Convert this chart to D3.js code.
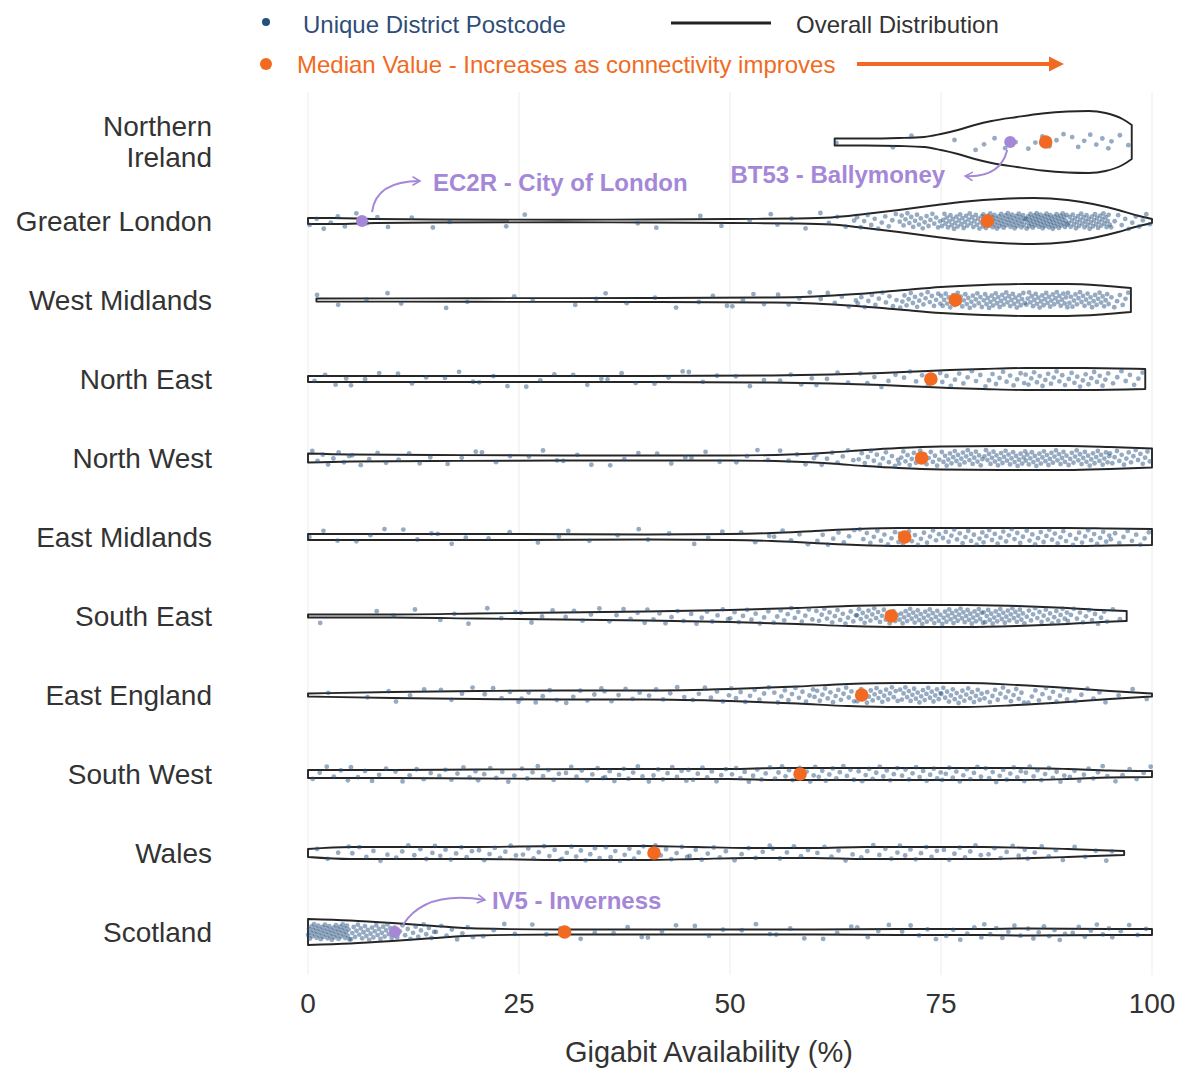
<!DOCTYPE html>
<html>
<head>
<meta charset="utf-8">
<script src="https://cdn.jsdelivr.net/npm/d3@7"></script>
<style>
  html, body { margin: 0; padding: 0; background: #ffffff; }
  svg { display: block; font-family: "Liberation Sans", Arial, sans-serif; }
</style>
</head>
<body>
<svg id="chart" width="1181" height="1070"></svg>
<script>
// Regions, top to bottom
const regions = [
  "Northern Ireland", "Greater London", "West Midlands", "North East", "North West",
  "East Midlands", "South East", "East England", "South West", "Wales", "Scotland"
];

// Median gigabit availability (%) per region
const medianValues = [87.4, 80.5, 76.7, 73.8, 72.7, 70.7, 69.1, 65.6, 58.3, 41.0, 30.4];

// Violin outlines: [availability %, density] knots per region (first/last knot = data range)
const violinProfiles = [
  [[62.4,3.5],[66,3.5],[70,4],[73,5],[75,8],[77,12],[79,17],[81,21],[84,25],[87,28.5],[90,30.5],[92.5,31],[94.5,29],[96.5,23],[97.6,17]],
  [[0,3],[3,3],[8,2],[15,1.5],[30,1.2],[40,1.5],[50,2],[58,2.5],[62,3.5],[66,7],[70,11],[74,15.5],[78,19.5],[82,22],[86,23],[90,21],[93,17],[96,11],[98,6],[100,2]],
  [[1,1.5],[20,1.8],[40,2],[55,2.5],[60,3.5],[65,6],[70,9.5],[75,13],[80,15],[85,16],[90,16],[94,14.5],[97.5,12]],
  [[0,3],[20,3],[40,3],[55,3.5],[62,4.5],[68,6],[72,7.5],[76,9],[80,10],[85,11],[92,11],[99.2,10]],
  [[0,4.5],[5,3.5],[15,3],[30,2.5],[50,2.5],[57,3.5],[62,5.5],[66,8],[70,10],[75,11.5],[82,12],[90,12],[95,11],[100,9.5]],
  [[0,3],[25,3],[40,2.5],[50,3],[55,4],[60,6],[65,8],[70,9],[80,9],[90,9],[95,8.5],[100,8]],
  [[0,1.5],[10,1.5],[20,2.5],[30,3.5],[40,4.5],[50,6],[58,8],[64,10],[70,11],[78,11],[84,10],[90,8],[94,6],[97,5]],
  [[0,1.5],[10,3],[20,4],[30,4.5],[40,4.5],[50,6],[58,8.5],[64,11],[70,12],[78,12],[84,10],[90,7],[95,4],[100,1.5]],
  [[0,4],[10,4],[20,4.5],[35,5],[50,5],[56,6],[70,6],[84,6],[90,5],[95,3.5],[100,3]],
  [[0,4],[5,6],[20,6],[30,7],[40,7],[46,6],[52,5],[60,5],[66,6],[80,6],[86,5],[90,4],[94,2.8],[96.7,2]],
  [[0,13],[5,11.5],[10,9],[15,6],[20,3.5],[30,2.5],[60,2.5],[70,3],[80,3],[85,3.5],[95,3],[100,3]]
];

// Postcode districts per 5-point availability band (bands start at these values)
const binStarts = [0,5,10,15,20,25,30,35,40,45,50,55,60,65,70,75,80,85,90,95];
const pointCounts = [
  [0,0,0,0,0,0,0,0,0,0,0,0,1,1,1,2,4,6,7,5],
  [6,4,2,1,1,1,0,1,1,2,2,3,5,12,22,35,50,55,40,12],
  [2,2,1,2,1,1,2,2,2,3,4,4,6,12,20,28,32,32,28,15],
  [4,3,3,3,3,3,3,3,3,3,3,4,4,6,7,10,12,15,15,10],
  [8,5,4,3,3,3,3,3,3,3,4,5,8,14,20,26,28,28,26,18],
  [3,3,3,3,2,2,2,2,2,3,3,5,8,12,14,15,15,15,14,10],
  [1,1,2,3,3,4,5,6,7,8,10,12,16,22,28,30,28,20,14,6],
  [1,2,3,4,5,6,6,6,6,7,9,12,16,22,24,22,16,12,7,3],
  [6,6,6,7,7,8,8,9,9,9,10,12,12,12,12,12,12,11,9,6],
  [4,6,7,8,8,8,9,9,8,7,6,6,6,7,8,8,7,6,4,2],
  [50,30,16,8,4,3,3,3,3,3,3,3,3,4,5,6,7,8,7,5]
];

// Highlighted postcode districts
const highlightCodes = ["BT53 - Ballymoney", "EC2R - City of London", "IV5 - Inverness"];
const highlightRegions = ["Northern Ireland", "Greater London", "Scotland"];
const highlightValues = [83.2, 6.4, 10.3];

const xTicks = [0, 25, 50, 75, 100];
const xTitle = "Gigabit Availability (%)";

const legendLabels = ["Unique District Postcode", "Overall Distribution", "Median Value - Increases as connectivity improves"];

// Colours
const dotColor = "#24507e";
const medianColor = "#f26a21";
const highlightColor = "#a587d8";
const outlineColor = "#262626";
const textColor = "#333333";

const svg = d3.select("#chart");

const x = d3.scaleLinear().domain([0, 100]).range([308, 1152]);
const y = d3.scalePoint().domain(regions).range([142, 932]);
const w = d3.scaleLinear().domain([0, 31]).range([0, 31]);

const defs = svg.append("defs");
defs.append("marker")
  .attr("id", "purpleHead").attr("viewBox", "0 0 10 10")
  .attr("refX", 8).attr("refY", 5).attr("markerWidth", 5).attr("markerHeight", 5)
  .attr("orient", "auto")
  .append("path").attr("d", "M1,1 L8,5 L1,9").attr("fill", "none")
  .attr("stroke", highlightColor).attr("stroke-width", 1.6).attr("stroke-linecap", "round");
defs.append("marker")
  .attr("id", "orangeHead").attr("viewBox", "0 0 10 10")
  .attr("refX", 4).attr("refY", 5).attr("markerWidth", 3.8).attr("markerHeight", 3.8)
  .attr("orient", "auto")
  .append("path").attr("d", "M0,0 L10,5 L0,10 Z").attr("fill", medianColor);

// Vertical grid lines
svg.append("g").selectAll("line").data(xTicks).join("line")
  .attr("x1", d => x(d)).attr("x2", d => x(d))
  .attr("y1", 92).attr("y2", 975)
  .attr("stroke", "#ececec").attr("stroke-width", 1);

// Violins
const area = d3.area()
  .x(d => x(d[0]))
  .curve(d3.curveMonotoneX);

const frac = v => v - Math.floor(v);

const rows = svg.append("g");
regions.forEach((r, i) => {
  const yc = y(r);
  const prof = violinProfiles[i];
  const g = rows.append("g");
  g.append("path")
    .datum(prof)
    .attr("d", area.y0(d => yc - w(d[1])).y1(d => yc + w(d[1])))
    .attr("fill", "#ffffff")
    .attr("stroke", outlineColor)
    .attr("stroke-width", 1.9)
    .attr("stroke-linejoin", "round");

  // jittered district points, evenly spread through each availability band
  const lo = prof[0][0], hi = prof[prof.length - 1][0];
  const pts = [];
  pointCounts[i].forEach((n, b) => {
    const shift = frac(b * 0.377 + i * 0.211) / n;
    for (let k = 0; k < n; k++) {
      const fx = (k + 0.5) / n + (shift - 0.5 / n) * 0.9;
      const fy = frac(0.31 + k * 0.6180340 + b * 0.2711 + i * 0.4371);
      const v = binStarts[b] + 5 * fx;
      if (v < lo || v > hi) continue;
      pts.push([v, (fy * 2 - 1) * 8]);
    }
  });
  g.append("g").selectAll("circle").data(pts).join("circle")
    .attr("cx", d => x(d[0]))
    .attr("cy", d => yc + d[1])
    .attr("r", 2.4)
    .attr("fill", dotColor)
    .attr("fill-opacity", 0.48);
});

// Highlighted districts
highlightCodes.forEach((c, i) => {
  svg.append("circle")
    .attr("cx", x(highlightValues[i])).attr("cy", y(highlightRegions[i]))
    .attr("r", 6).attr("fill", highlightColor);
});

// Medians
svg.append("g").selectAll("circle").data(regions).join("circle")
  .attr("cx", (d, i) => x(medianValues[i]))
  .attr("cy", d => y(d))
  .attr("r", 6.8)
  .attr("fill", medianColor);

// Annotation labels and curved arrows
const annot = svg.append("g")
  .attr("fill", highlightColor)
  .attr("font-weight", "bold")
  .attr("font-size", 24);

function curvedArrow(x0, y0, cx, cy, x1, y1) {
  const p = d3.path();
  p.moveTo(x0, y0);
  p.quadraticCurveTo(cx, cy, x1, y1);
  svg.append("path").attr("d", p.toString())
    .attr("fill", "none").attr("stroke", highlightColor)
    .attr("stroke-width", 2).attr("marker-end", "url(#purpleHead)");
}

// BT53
{
  const hx = x(highlightValues[0]), hy = y(highlightRegions[0]);
  curvedArrow(hx - 3, hy + 8, hx - 10, hy + 36, hx - 45, hy + 34);
  annot.append("text").attr("x", hx - 65).attr("y", hy + 41)
    .attr("text-anchor", "end").text(highlightCodes[0]);
}
// EC2R
{
  const hx = x(highlightValues[1]), hy = y(highlightRegions[1]);
  curvedArrow(hx + 10, hy - 9, hx + 14, hy - 40, hx + 58, hy - 40);
  annot.append("text").attr("x", hx + 71).attr("y", hy - 30)
    .text(highlightCodes[1]);
}
// IV5
{
  const hx = x(highlightValues[2]), hy = y(highlightRegions[2]);
  curvedArrow(hx + 8, hy - 7, hx + 30, hy - 42, hx + 90, hy - 32);
  annot.append("text").attr("x", hx + 97).attr("y", hy - 23)
    .text(highlightCodes[2]);
}

// Region labels
const yLabels = svg.append("g")
  .attr("font-size", 28).attr("fill", textColor).attr("text-anchor", "end");
regions.forEach(r => {
  const words = r === "Northern Ireland" ? ["Northern", "Ireland"] : [r];
  const t = yLabels.append("text").attr("x", 212).attr("y", y(r));
  words.forEach((wd, j) => {
    t.append("tspan").attr("x", 212)
      .attr("dy", words.length === 1 ? "0.35em" : (j === 0 ? "-0.2em" : "1.08em"))
      .text(wd);
  });
});

// X axis labels
svg.append("g").attr("font-size", 28).attr("fill", textColor).attr("text-anchor", "middle")
  .selectAll("text").data(xTicks).join("text")
  .attr("x", d => x(d)).attr("y", 1013)
  .text(d => d);

svg.append("text").attr("x", x(47.5)).attr("y", 1062)
  .attr("text-anchor", "middle").attr("font-size", 29).attr("fill", textColor)
  .text(xTitle);

// Legend
const lg = svg.append("g").attr("font-size", 24);
lg.append("circle").attr("cx", 266).attr("cy", 22).attr("r", 4).attr("fill", dotColor);
lg.append("text").attr("x", 303).attr("y", 33).attr("fill", "#2f4d78").text(legendLabels[0]);
lg.append("line").attr("x1", 671).attr("x2", 771).attr("y1", 23).attr("y2", 23)
  .attr("stroke", "#222").attr("stroke-width", 3);
lg.append("text").attr("x", 796).attr("y", 33).attr("fill", textColor).text(legendLabels[1]);
lg.append("circle").attr("cx", 266).attr("cy", 64).attr("r", 6).attr("fill", medianColor);
lg.append("text").attr("x", 297).attr("y", 73).attr("fill", medianColor).text(legendLabels[2]);
lg.append("line").attr("x1", 857).attr("x2", 1055).attr("y1", 64).attr("y2", 64)
  .attr("stroke", medianColor).attr("stroke-width", 4).attr("marker-end", "url(#orangeHead)");
</script>
</body>
</html>
